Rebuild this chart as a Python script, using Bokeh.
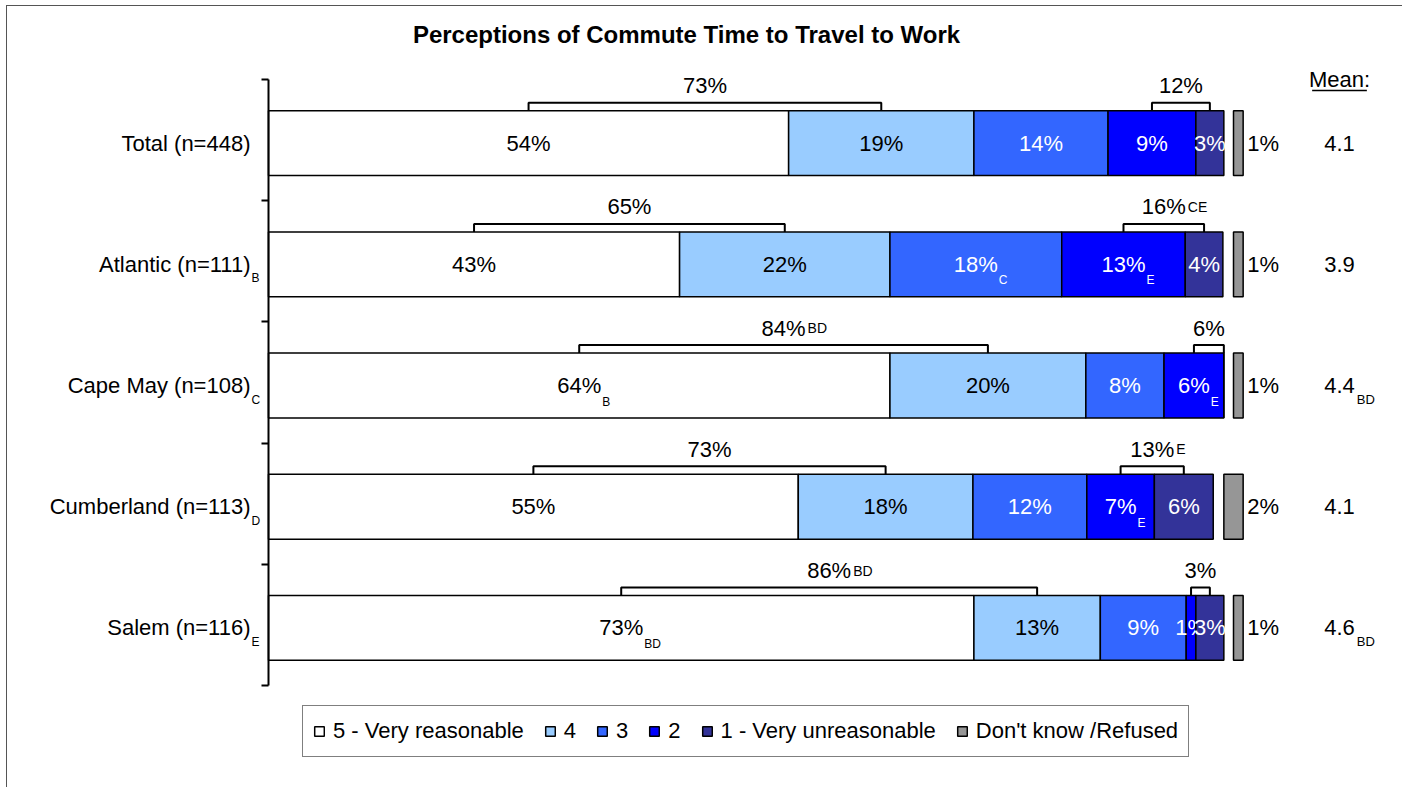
import numpy as np
from bokeh.plotting import figure
from bokeh.models import (ColumnDataSource, Range1d, FixedTicker, Legend,
                          LegendItem, Label)
from bokeh.core.properties import value
from bokeh.embed import file_html
from bokeh.resources import INLINE

# ---------------- data ----------------
title = "Perceptions of Commute Time to Travel to Work"
categories = ["Total (n=448)", "Atlantic (n=111)", "Cape May (n=108)",
              "Cumberland (n=113)", "Salem (n=116)"]
category_subs = ["", "B", "C", "D", "E"]

series_names = ["5 - Very reasonable", "4", "3", "2", "1 - Very unreasonable"]
# bar lengths (labels are the rounded values)
very_reasonable = [53.9, 42.6, 64.4, 54.9, 73.1]
rating_4 = [19.2, 21.8, 20.3, 18.1, 13.1]
rating_3 = [13.9, 17.8, 8.1, 11.8, 8.9]
rating_2 = [9.1, 12.8, 6.2, 7.0, 1.0]
very_unreasonable = [2.9, 3.9, 0.0, 6.1, 2.9]

subs_5 = ["", "", "B", "", "BD"]
subs_4 = ["", "", "", "", ""]
subs_3 = ["", "C", "", "", ""]
subs_2 = ["", "E", "E", "E", ""]
subs_1 = ["", "", "", "", ""]

dk_name = "Don't know /Refused"
dont_know = [1, 1, 1, 2, 1]

top2_box = [73, 65, 84, 73, 86]
top2_subs = ["", "", "BD", "", "BD"]
bottom2_box = [12, 16, 6, 13, 3]
bottom2_subs = ["", "CE", "", "E", ""]

mean_header = "Mean:"
means = ["4.1", "3.9", "4.4", "4.1", "4.6"]
mean_subs = ["", "", "BD", "", "BD"]

# ---------------- style ----------------
colors = ["#FFFFFF", "#99CCFF", "#3366FF", "#0000FF", "#333399"]
text_colors = ["black", "black", "white", "white", "white"]
dk_color = "#969696"
FONT = "Liberation Sans"
FS = 22

W, H = 1396, 782
AXIS_PX = 261       # canvas px of the category axis
PX = 9.65           # px per percent
UNIT = 121.2        # px per category
BAR_H = 0.535
x_start = -AXIS_PX / PX
x_end = x_start + W / PX
y_top = -0.525 - 73 / UNIT
y_bot = y_top + H / UNIT
DK_END = 101.0

CW = {str(d): .556 for d in range(10)}
CW.update({'%': .889, '.': .278})


def tw(s, fs):
    return sum(CW.get(c, .556) for c in s) * fs


p = figure(width=W, height=H, x_range=Range1d(x_start, x_end),
           y_range=Range1d(y_bot, y_top), output_backend="svg",
           toolbar_location=None, min_border_left=0, min_border_right=0,
           min_border_top=0, min_border_bottom=0, x_axis_location=None,
           y_axis_location="left")
p.outline_line_color = None
p.grid.visible = False
p.background_fill_color = "white"
p.border_fill_color = "white"
p.styles = {"margin-left": "6px", "margin-top": "5px",
            "border-top": "1px solid #555555",
            "border-left": "1px solid #555555"}

# y axis: categories + boundary ticks, drawn at x = 0
yax = p.yaxis[0]
yax.fixed_location = 0
yax.ticker = FixedTicker(ticks=list(range(len(categories))),
                         minor_ticks=[k - 0.525 for k in range(len(categories) + 1)])
yax.major_label_overrides = {k: c for k, c in enumerate(categories)}
yax.bounds = (-0.525, len(categories) - 0.525)
yax.major_tick_out = 0
yax.major_tick_in = 0
yax.minor_tick_out = 7
yax.minor_tick_in = 0
yax.minor_tick_line_width = 2
yax.minor_tick_line_color = "black"
yax.axis_line_width = 2
yax.axis_line_color = "black"
yax.major_label_standoff = 11
yax.major_label_text_font = FONT
yax.major_label_text_font_size = f"{FS}px"
yax.major_label_text_color = "black"

yk = np.arange(len(categories), dtype=float)
cm = np.array([bool(s) for s in category_subs])
p.text(x=np.zeros(cm.sum()), y=yk[cm], text=[s for s in category_subs if s],
       x_offset=-17, y_offset=14, text_align="left",
       text_baseline="alphabetic", text_font=value(FONT),
       text_font_size="12px", text_color="black")

# stacked bars
series = [very_reasonable, rating_4, rating_3, rating_2, very_unreasonable]
series_subs = [subs_5, subs_4, subs_3, subs_2, subs_1]
vals = np.array(series, dtype=float)
rights = np.cumsum(vals, axis=0)
lefts = rights - vals
mids = (lefts + rights) / 2

renderers = []
for i in range(len(series)):
    src = ColumnDataSource(dict(y=yk, left=lefts[i], right=rights[i]))
    r = p.hbar(y="y", left="left", right="right", height=BAR_H, source=src,
               fill_color=colors[i], line_color="black", line_width=1.5)
    renderers.append(r)
    m = vals[i] > 0
    txt = [f"{int(round(v))}%" for v in vals[i][m]]
    p.text(x=mids[i][m], y=yk[m], text=txt, text_align="center",
           text_baseline="middle", text_font=value(FONT),
           text_font_size=f"{FS}px", text_color=text_colors[i])
    sm = np.array([bool(s) for s in series_subs[i]]) & m
    if sm.any():
        sub_txt = [s for s, ok in zip(series_subs[i], sm) if ok]
        offs = [tw(f"{int(round(v))}%", FS) / 2 + 1 for v in vals[i][sm]]
        p.text(x=mids[i][sm], y=yk[sm], text=sub_txt, x_offset=offs,
               y_offset=16, text_align="left", text_baseline="alphabetic",
               text_font=value(FONT), text_font_size="12px",
               text_color=text_colors[i])

# don't know bar
dk = np.array(dont_know, dtype=float)
dk_src = ColumnDataSource(dict(y=yk, left=DK_END - dk, right=np.full_like(dk, DK_END)))
r_dk = p.hbar(y="y", left="left", right="right", height=BAR_H, source=dk_src,
              fill_color=dk_color, line_color="black", line_width=1.5)
p.text(x=np.full_like(dk, DK_END), y=yk, text=[f"{int(v)}%" for v in dk],
       x_offset=4, text_align="left", text_baseline="middle",
       text_font=value(FONT), text_font_size=f"{FS}px", text_color="black")

# brackets (top-2 and bottom-2 boxes)
bar_top = yk - BAR_H / 2
br_top = bar_top - 8 / UNIT
xs, ys = [], []
lab_x, lab_t, sub_t, sub_off = [], [], [], []
for k in range(len(categories)):
    for (a, b, v, s) in [(mids[0][k], mids[1][k], top2_box[k], top2_subs[k]),
                         (mids[3][k], mids[4][k], bottom2_box[k], bottom2_subs[k])]:
        xs.append([a, a, b, b])
        ys.append([bar_top[k], br_top[k], br_top[k], bar_top[k]])
        lab_x.append((a + b) / 2)
        lab_t.append(f"{v}%")
        sub_t.append(s)
        sub_off.append(tw(f"{v}%", FS) / 2 + 2)
lab_y = np.repeat(br_top - 17 / UNIT, 2)
p.multi_line(xs=xs, ys=ys, line_color="black", line_width=2)
p.text(x=lab_x, y=lab_y, text=lab_t, text_align="center",
       text_baseline="alphabetic", text_font=value(FONT),
       text_font_size=f"{FS}px", text_color="black")
p.text(x=lab_x, y=lab_y, text=sub_t, x_offset=sub_off, text_align="left",
       text_baseline="alphabetic", text_font=value(FONT),
       text_font_size="14px", text_color="black")

# means column
MEAN_X = (1340 - 269) / PX
p.text(x=[MEAN_X], y=[-0.525], text=[mean_header], text_align="center",
       text_baseline="middle", text_font=value(FONT),
       text_font_size=f"{FS}px", text_color="black")
hw = tw("Mean", FS) / 2 / PX + 0.3
p.segment(x0=[MEAN_X - hw], x1=[MEAN_X + hw], y0=[-0.525 + 11 / UNIT],
          y1=[-0.525 + 11 / UNIT], line_color="black", line_width=1.5)
p.text(x=np.full(len(means), MEAN_X), y=yk, text=means, text_align="center",
       text_baseline="middle", text_font=value(FONT),
       text_font_size=f"{FS}px", text_color="black")
moff = [tw(m, FS) / 2 + 2 for m in means]
p.text(x=np.full(len(means), MEAN_X), y=yk, text=mean_subs, x_offset=moff,
       y_offset=14, text_align="left", text_baseline="alphabetic",
       text_font=value(FONT), text_font_size="13px", text_color="black")

# title
p.add_layout(Label(x=(687 - 269) / PX, y=y_top + 28 / UNIT, text=title,
                   text_font=FONT, text_font_size="24px", text_color="black",
                   text_font_style="bold", text_align="center",
                   text_baseline="middle"))

# legend
items = [LegendItem(label=n, renderers=[r]) for n, r in zip(series_names, renderers)]
items.append(LegendItem(label=dk_name, renderers=[r_dk]))
legend = Legend(items=items, orientation="horizontal", location=(295, 31),
                label_text_font=FONT, label_text_font_size=f"{FS}px",
                label_text_color="black", label_width=0,
                glyph_width=12, glyph_height=12, label_standoff=8, spacing=20,
                padding=10, margin=0, border_line_color="black",
                border_line_width=1.5, label_height=30)
p.add_layout(legend, "center")

open("out.html", "w").write(file_html(p, INLINE))
